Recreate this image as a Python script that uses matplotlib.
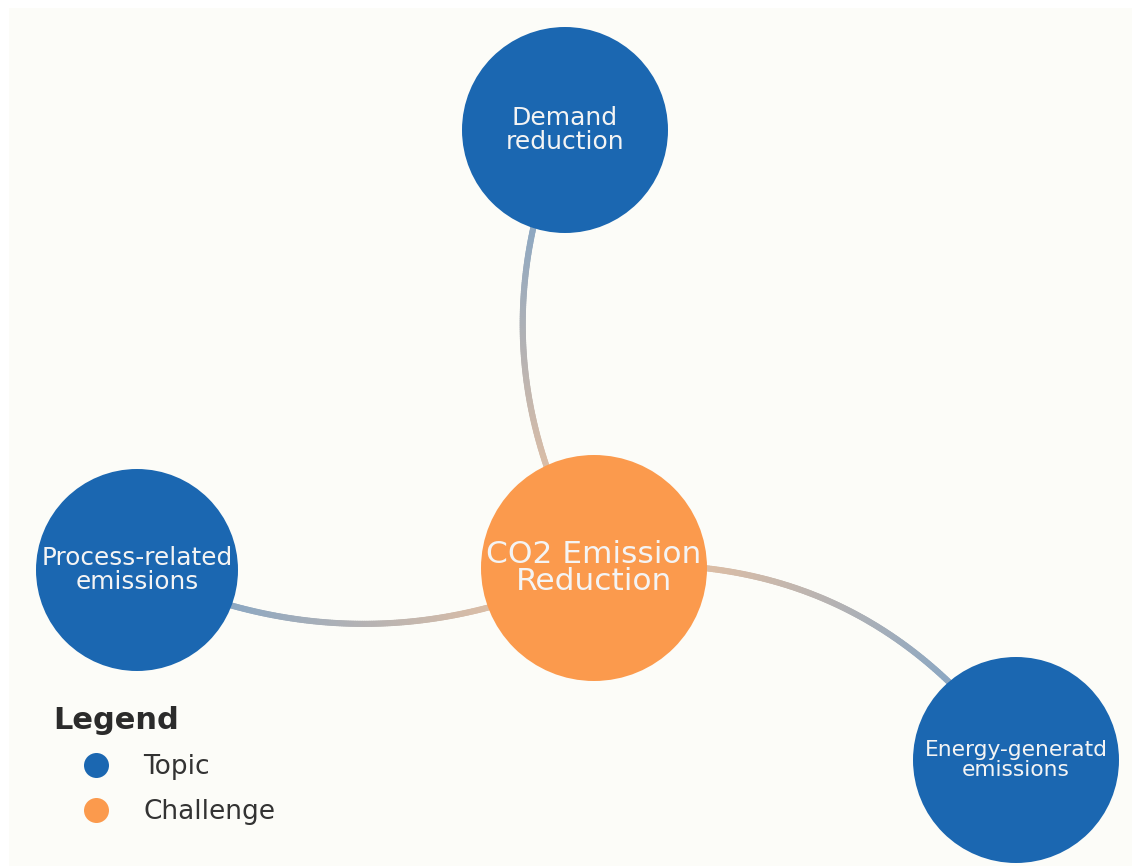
import numpy as np
import matplotlib
matplotlib.use("Agg")
import matplotlib.pyplot as plt
from matplotlib.patches import Circle
from matplotlib.collections import LineCollection
from matplotlib.lines import Line2D
from matplotlib.colors import to_rgb

# ---- data ----
node_labels = ["CO2 Emission\nReduction", "Demand\nreduction",
               "Process-related\nemissions", "Energy-generatd\nemissions"]
node_types = ["Challenge", "Topic", "Topic", "Topic"]
node_x = [594, 565, 137, 1016]
node_y = [568, 130, 570, 760]
node_r = [113, 103, 101, 103]
edge_src = [0, 0, 0]
edge_dst = [1, 2, 3]
edge_rad = [0.255, 0.24, 0.29]
legend_labels = ["Topic", "Challenge"]

# ---- style ----
type_color = {"Topic": "#1b67b1", "Challenge": "#fb9a4d"}
label_size = [22.5, 18.0, 17.8, 15.7]
bg = "#fcfcf8"
W, H = 1132, 866

fig = plt.figure(figsize=(W / 100, H / 100), dpi=100, facecolor="white")
ax = fig.add_axes([9 / W, 0, (W - 9) / W, (H - 8) / H])
ax.set_facecolor(bg)
ax.set_xlim(9, W)
ax.set_ylim(H, 8)
ax.set_aspect("equal")
ax.axis("off")
ax.add_patch(plt.Rectangle((9, 8), W - 9, H - 8, facecolor=bg, edgecolor="none", zorder=0))


def blend(c, a):
    c = np.array(to_rgb(c))
    b = np.array(to_rgb(bg))
    return a * c + (1 - a) * b


for s, d, rad in zip(edge_src, edge_dst, edge_rad):
    p0 = np.array([node_x[s], node_y[s]], float)
    p2 = np.array([node_x[d], node_y[d]], float)
    dx, dy = p2 - p0
    p1 = (p0 + p2) / 2 + rad * np.array([dy, -dx])
    t = np.linspace(0, 1, 200)[:, None]
    pts = (1 - t) ** 2 * p0 + 2 * (1 - t) * t * p1 + t ** 2 * p2
    segs = np.stack([pts[:-1], pts[1:]], axis=1)
    c0 = blend(type_color[node_types[s]], 0.55)
    c1 = blend(type_color[node_types[d]], 0.62)
    tt = np.linspace(0, 1, len(segs))[:, None]
    cols = (1 - tt) * c0 + tt * c1
    lc = LineCollection(segs, colors=cols, linewidths=4.4, capstyle="round", zorder=1)
    ax.add_collection(lc)

for lab, typ, x, y, r, fs in zip(node_labels, node_types, node_x, node_y, node_r, label_size):
    ax.add_patch(Circle((x, y), r, facecolor=type_color[typ], edgecolor="none", zorder=2))
    ax.text(x, y, lab, ha="center", va="center", fontsize=fs, color="#f4f4f4",
            linespacing=0.95, zorder=3, family="DejaVu Sans")

handles = [Line2D([], [], marker="o", linestyle="none", markersize=18,
                  markerfacecolor=type_color[lt], markeredgecolor="none")
           for lt in legend_labels]
leg = fig.legend(handles, legend_labels, loc="upper left",
                 bbox_to_anchor=(30 / W, 1 - 682 / H), frameon=False,
                 title="Legend", title_fontproperties={"weight": "bold", "size": 22},
                 fontsize=19, alignment="left", labelcolor="#333333",
                 handlelength=3.2, handletextpad=0.2, labelspacing=0.72)
leg.get_title().set_color("#2b2b2b")

fig.savefig("out.png", dpi=100, facecolor="white")
